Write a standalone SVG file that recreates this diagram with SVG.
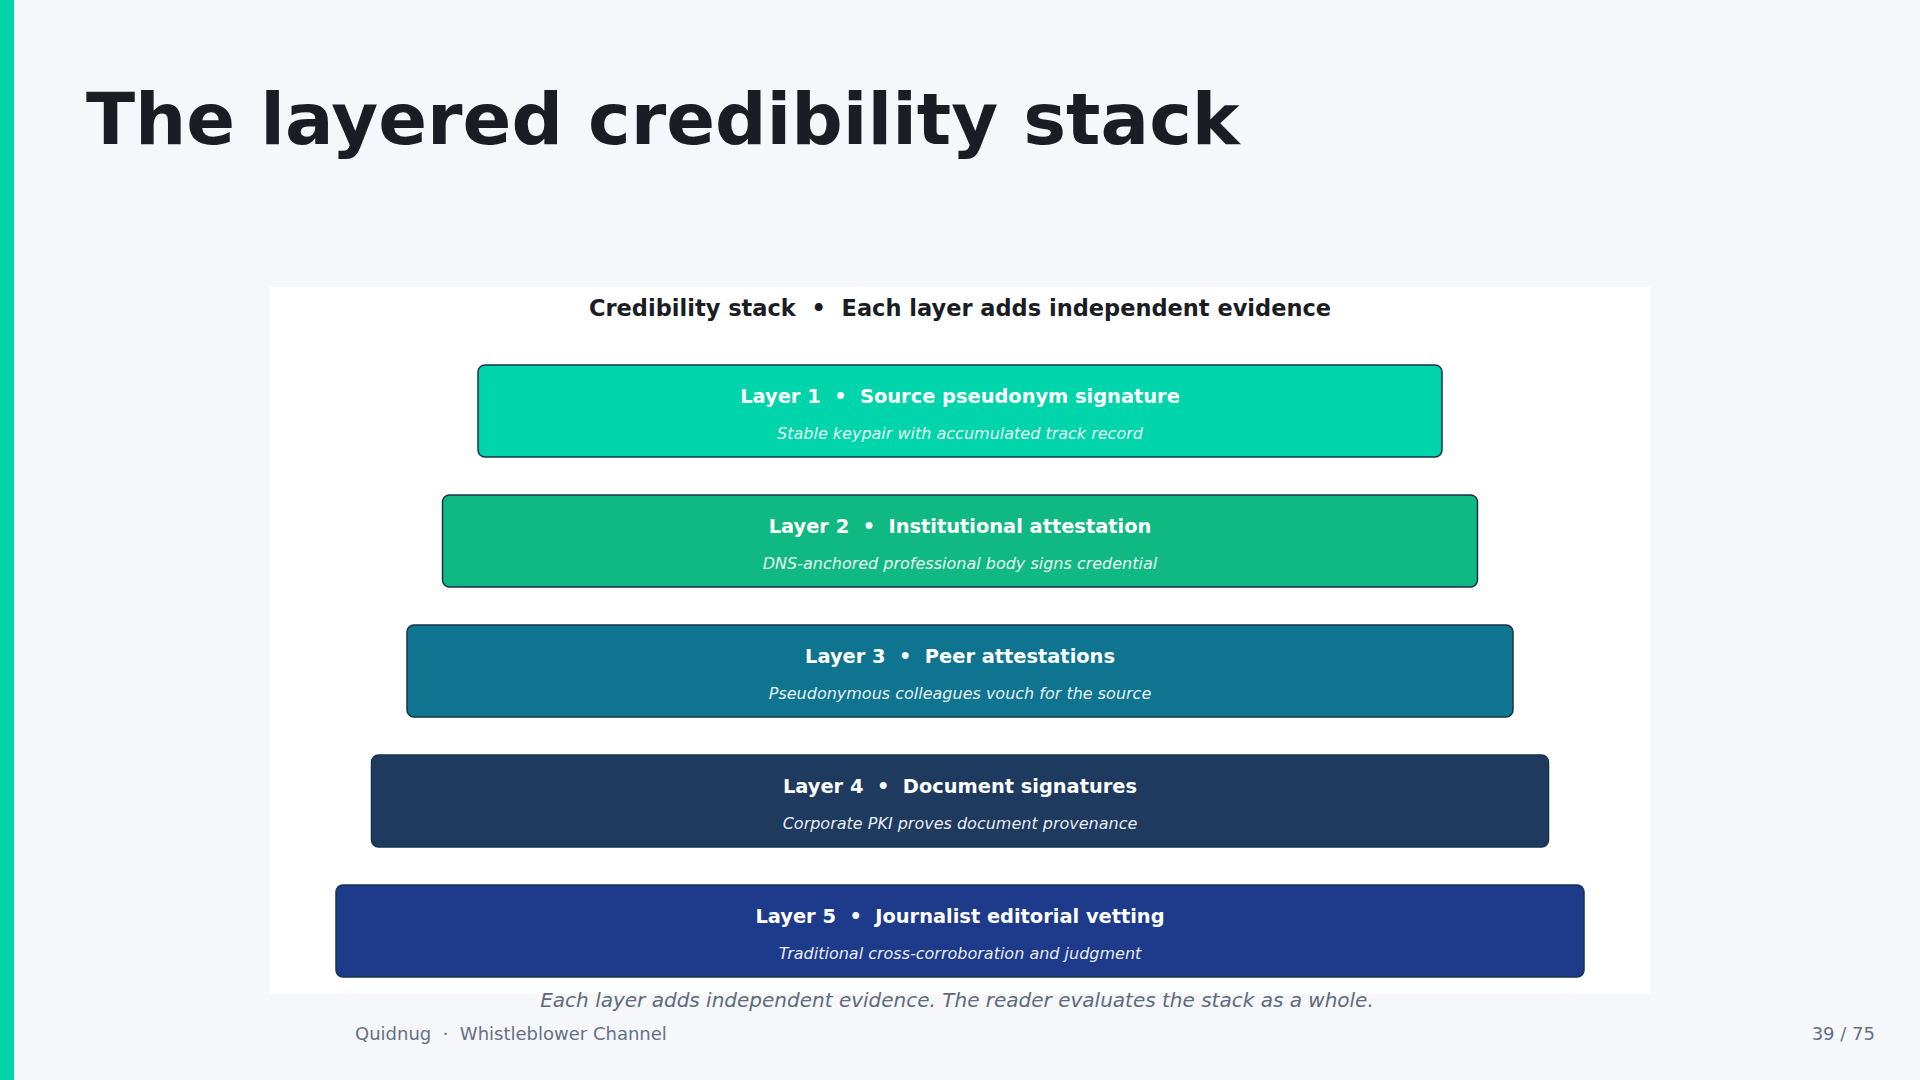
<svg xmlns="http://www.w3.org/2000/svg" width="1920" height="1080" viewBox="0 0 1920 1080">
<style>
text{font-family:"DejaVu Sans","Noto Sans",sans-serif;white-space:pre}
.title{font-size:72px;font-weight:bold;fill:#1a1d23}
.sub{font-size:22.5px;font-weight:bold;fill:#1a1d23}
.box{stroke:#163250;stroke-width:1.5}
.lt{font-size:19.4px;font-weight:bold;fill:#ffffff;text-anchor:middle}
.ls{font-size:16px;font-style:italic;fill:#ffffff;fill-opacity:0.92;text-anchor:middle}
.cap{font-size:20px;font-style:italic;fill:#5f6b7a;text-anchor:middle}
.foot{font-size:18px;fill:#667085}
</style>
<rect width="1920" height="1080" fill="#f5f7fa"/>
<rect x="0" y="0" width="14" height="1080" fill="#00d4aa"/>
<text class="title" x="86" y="144">The layered credibility stack</text>
<rect x="270" y="287" width="1380" height="707" fill="#ffffff"/>
<text class="sub" x="960" y="316" text-anchor="middle">Credibility stack  •  Each layer adds independent evidence</text>
<g id="connectors"></g>
<g id="layer1">
<rect class="box" x="478" y="365" width="964" height="92" rx="7" fill="#00d4aa"/>
<text class="lt" x="960" y="403">Layer 1  •  Source pseudonym signature</text>
<text class="ls" x="960" y="439">Stable keypair with accumulated track record</text>
</g>
<g id="layer2">
<rect class="box" x="442.5" y="495" width="1035" height="92" rx="7" fill="#10b981"/>
<text class="lt" x="960" y="533">Layer 2  •  Institutional attestation</text>
<text class="ls" x="960" y="569">DNS-anchored professional body signs credential</text>
</g>
<g id="layer3">
<rect class="box" x="407" y="625" width="1106" height="92" rx="7" fill="#0e7490"/>
<text class="lt" x="960" y="663">Layer 3  •  Peer attestations</text>
<text class="ls" x="960" y="699">Pseudonymous colleagues vouch for the source</text>
</g>
<g id="layer4">
<rect class="box" x="371.5" y="755" width="1177" height="92" rx="7" fill="#1e3a5f"/>
<text class="lt" x="960" y="793">Layer 4  •  Document signatures</text>
<text class="ls" x="960" y="829">Corporate PKI proves document provenance</text>
</g>
<g id="layer5">
<rect class="box" x="336" y="885" width="1248" height="92" rx="7" fill="#1e3a8a"/>
<text class="lt" x="960" y="923">Layer 5  •  Journalist editorial vetting</text>
<text class="ls" x="960" y="959">Traditional cross-corroboration and judgment</text>
</g>
<text class="cap" x="957" y="1007">Each layer adds independent evidence. The reader evaluates the stack as a whole.</text>
<text class="foot" x="355" y="1040">Quidnug  ·  Whistleblower Channel</text>
<text class="foot" x="1875" y="1040" text-anchor="end">39 / 75</text>
</svg>
